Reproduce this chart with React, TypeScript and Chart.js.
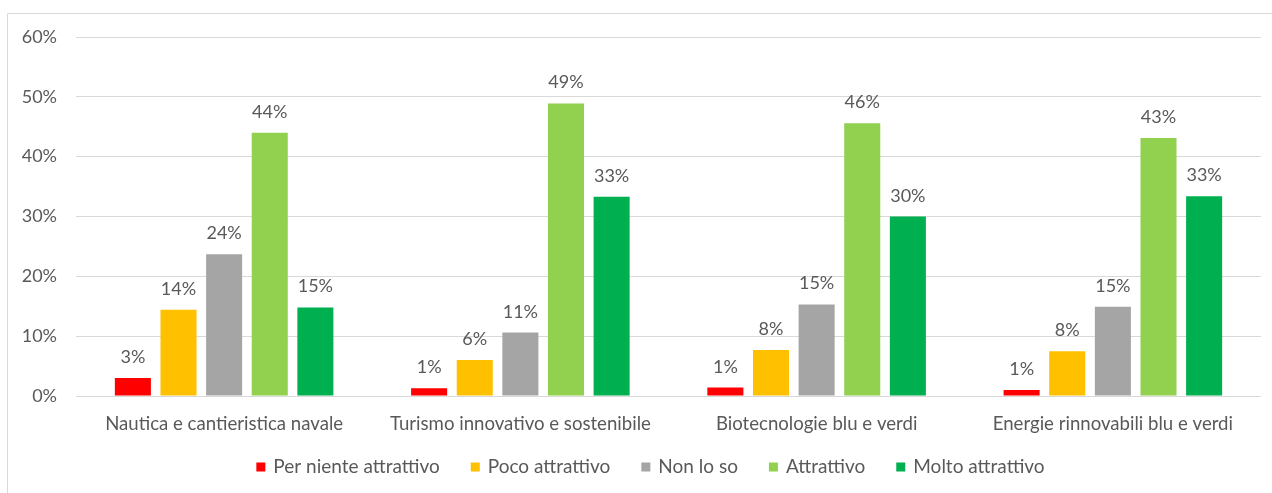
import React, { useEffect, useRef } from "react";
import { Chart, registerables } from "chart.js";

Chart.register(...registerables);

const categories = [
  "Nautica e cantieristica navale",
  "Turismo innovativo e sostenibile",
  "Biotecnologie blu e verdi",
  "Energie rinnovabili blu e verdi",
];
const seriesNames = [
  "Per niente attrattivo",
  "Poco attrattivo",
  "Non lo so",
  "Attrattivo",
  "Molto attrattivo",
];
const perNiente = [3.0, 1.3, 1.4, 1.0];
const poco = [14.4, 6.0, 7.7, 7.5];
const nonLoSo = [23.7, 10.6, 15.3, 14.9];
const attrattivo = [44.0, 48.9, 45.6, 43.1];
const molto = [14.8, 33.3, 30.0, 33.4];
const yTicks = [0, 10, 20, 30, 40, 50, 60];

const colors = ["#FF0000", "#FFC000", "#A5A5A5", "#92D050", "#00B050"];
const FONT = "Lato, 'Noto Sans', sans-serif";
const TEXT = "#595959";

const frame = {
  id: "frame",
  beforeDraw(chart: any) {
    const ctx = chart.ctx;
    ctx.save();
    ctx.strokeStyle = "#D9D9D9";
    ctx.lineWidth = 1;
    ctx.beginPath();
    ctx.moveTo(7.5, chart.height);
    ctx.lineTo(7.5, 13.5);
    ctx.lineTo(chart.width, 13.5);
    ctx.stroke();
    ctx.restore();
  },
};

const labels = {
  id: "barLabels",
  afterDatasetsDraw(chart: any) {
    const ctx = chart.ctx;
    ctx.save();
    ctx.fillStyle = TEXT;
    ctx.font = `18px ${FONT}`;
    ctx.textAlign = "center";
    ctx.textBaseline = "alphabetic";
    chart.data.datasets.forEach((ds: any, i: number) => {
      const meta = chart.getDatasetMeta(i);
      meta.data.forEach((el: any, j: number) => {
        const v = ds.data[j];
        ctx.fillText(Math.round(v) + "%", el.x, el.y - 15);
      });
    });
    ctx.restore();
  },
};

const customLegend = {
  id: "customLegend",
  afterDraw(chart: any) {
    const ctx = chart.ctx;
    ctx.save();
    ctx.font = `19px ${FONT}`;
    ctx.textBaseline = "middle";
    ctx.textAlign = "left";
    const box = 9;
    const gapBox = 8;
    const gapItem = 31;
    const items = chart.data.datasets.map((ds: any) => ({
      label: ds.label,
      color: ds.backgroundColor,
      w: box + gapBox + ctx.measureText(ds.label).width,
    }));
    const total = items.reduce((s: number, it: any) => s + it.w, 0) + gapItem * (items.length - 1);
    let x = 650.5 - total / 2;
    const cy = 467;
    items.forEach((it: any) => {
      ctx.fillStyle = it.color;
      ctx.fillRect(x, cy - box / 2, box, box);
      ctx.fillStyle = TEXT;
      ctx.fillText(it.label, x + box + gapBox, cy);
      x += it.w + gapItem;
    });
    ctx.restore();
  },
};

export default function App() {
  const ref = useRef<HTMLCanvasElement>(null);
  useEffect(() => {
    const data = [perNiente, poco, nonLoSo, attrattivo, molto];
    const chart = new Chart(ref.current as HTMLCanvasElement, {
      type: "bar",
      data: {
        labels: categories,
        datasets: seriesNames.map((name, i) => ({
          label: name,
          data: data[i],
          backgroundColor: colors[i],
          borderWidth: 0,
          categoryPercentage: 0.77,
          barPercentage: 0.79,
        })),
      },
      options: {
        animation: false,
        responsive: true,
        maintainAspectRatio: false,
        layout: { padding: { left: 8, right: 11, top: 37, bottom: 0 } },
        plugins: {
          tooltip: { enabled: false },
          legend: { display: false },
        },
        scales: {
          x: {
            grid: { display: false, drawTicks: false },
            border: { display: false },
            ticks: {
              color: TEXT,
              font: { family: FONT, size: 18.6 },
              padding: 17,
              maxRotation: 0,
              autoSkip: false,
            },
            afterFit(scale: any) {
              scale.height = 97;
            },
          },
          y: {
            min: 0,
            max: 60,
            afterBuildTicks(scale: any) {
              scale.ticks = yTicks.map((v) => ({ value: v }));
            },
            grid: { color: "#D9D9D9", drawTicks: false, lineWidth: 1 },
            border: { display: false },
            ticks: {
              color: TEXT,
              font: { family: FONT, size: 18 },
              padding: 19,
              callback: (v: any) => v + "%",
            },
            afterFit(scale: any) {
              scale.width = 68;
            },
          },
        },
      },
      plugins: [frame, labels, customLegend],
    });
    return () => chart.destroy();
  }, []);
  return (
    <div style={{ position: "fixed", left: 0, top: 0, width: 1272, height: 493, background: "#fff" }}>
      <canvas ref={ref} />
    </div>
  );
}
